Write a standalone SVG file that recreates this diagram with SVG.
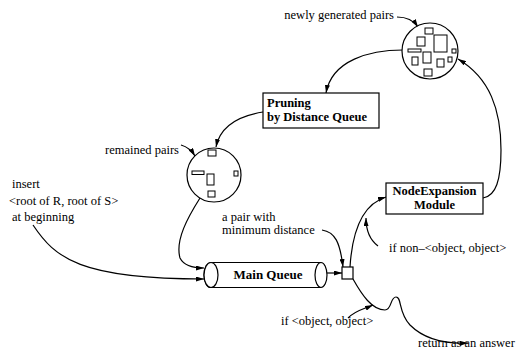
<svg xmlns="http://www.w3.org/2000/svg" width="521" height="353" viewBox="0 0 521 353">
<style>
text{font-family:"Liberation Serif","Times New Roman",serif;font-size:12.5px;fill:#000}
.b{font-weight:bold;font-size:12.5px}
.n{fill:#fff;stroke:#000;stroke-width:1.2}
.r{fill:#fff;stroke:#000;stroke-width:1}
.c{fill:none;stroke:#000;stroke-width:1.2}
</style>
<defs>
<marker id="ah" viewBox="0 0 10 10" refX="10" refY="5" markerWidth="8" markerHeight="5" preserveAspectRatio="none" orient="auto" markerUnits="userSpaceOnUse"><path d="M0,0 L10,5 L0,10 z" fill="#000"/></marker>
</defs>
<rect width="521" height="353" fill="#fff"/>
<g id="connectors" class="c">
<path class="c" d="M397,17 C408,17 414,21 418,27" marker-end="url(#ah)"/>
<path class="c" d="M403,50 C370,50 332,60 326,93" marker-end="url(#ah)"/>
<path class="c" d="M263,112 C238,116 220,127 216,147" marker-end="url(#ah)"/>
<path class="c" d="M181,145 C188,147 192,151 195,156" marker-end="url(#ah)"/>
<path class="c" d="M200,198 C188,217 175,240 180,258 C184,266 195,268 204,268" marker-end="url(#ah)"/>
<path class="c" d="M33,225 C55,258 80,279 204,279" marker-end="url(#ah)"/>
<path class="c" d="M327,273 L342,273" marker-end="url(#ah)"/>
<path class="c" d="M322,230 C335,232 340,242 343,267" marker-end="url(#ah)"/>
<path class="c" d="M350,267 C352,235 360,205 386,197" marker-end="url(#ah)"/>
<path class="c" d="M378,246 C370,240 366,232 366,218" marker-end="url(#ah)"/>
<path class="c" d="M483,198 C496,196 501,180 501,150 C501,110 490,78 458,59" marker-end="url(#ah)"/>
<path class="c" d="M353,279 C362,295 372,310 385,310 C392,310 390,297 396,297 C402,297 398,312 410,325 C425,340 445,344 468,343" marker-end="url(#ah)"/>
<path class="c" d="M348,318 C356,310 362,310 373,305" marker-end="url(#ah)"/>
</g>
<g id="newPairs" transform="translate(430,51)">
<circle class="n" r="28"/>
<rect class="r" x="-5" y="-23" width="8" height="6"/>
<rect class="r" x="-13" y="-14" width="8" height="9"/>
<rect class="r" x="4" y="-16" width="13" height="17"/>
<rect class="r" x="-22" y="-2" width="13" height="3"/>
<rect class="r" x="22" y="-2" width="4" height="4"/>
<rect class="r" x="-7" y="1" width="8" height="11"/>
<rect class="r" x="-18" y="6" width="6" height="8"/>
<rect class="r" x="7" y="8" width="7" height="8"/>
<rect class="r" x="18" y="6" width="4" height="5"/>
<rect class="r" x="-6" y="18" width="8" height="7"/>
</g>
<text x="394" y="19" text-anchor="end">newly generated pairs</text>
<g id="pruning">
<rect class="n" x="263" y="93" width="116" height="35"/>
<text class="b" x="267" y="107">Pruning</text>
<text class="b" x="267" y="121">by Distance Queue</text>
</g>
<g id="remained" transform="translate(214,175)">
<circle class="n" r="27"/>
<rect class="r" x="-6" y="-25" width="8" height="6"/>
<rect class="r" x="-22" y="-4" width="12" height="3.5"/>
<rect class="r" x="-7" y="-1" width="7" height="11"/>
<rect class="r" x="20" y="-4" width="4" height="5"/>
<rect class="r" x="-6" y="16" width="7" height="6"/>
</g>
<text x="105" y="154">remained pairs</text>
<text x="12" y="188">insert</text>
<text x="9" y="205">&lt;root of R, root of S&gt;</text>
<text x="12" y="221">at beginning</text>
<g id="mainQueue">
<path class="n" d="M211,262.5 L321,262.5 A6,12.5 0 0 1 321,287.5 L211,287.5 A7,12.5 0 0 1 211,262.5 z"/>
<ellipse class="n" cx="211" cy="275" rx="7" ry="12.5"/>
<path class="c" d="M321,262.5 A6,12.5 0 0 0 321,287.5"/>
<text class="b" x="268" y="279" text-anchor="middle" style="font-size:13px">Main Queue</text>
</g>
<g id="pair">
<rect class="n" x="342" y="267" width="11" height="12"/>
</g>
<text x="222" y="221">a pair with</text>
<text x="222" y="234">minimum distance</text>
<g id="nodeExpansion">
<rect class="n" x="386" y="183" width="97" height="31"/>
<text class="b" x="434.5" y="195" text-anchor="middle">NodeExpansion</text>
<text class="b" x="434.5" y="209" text-anchor="middle">Module</text>
</g>
<text x="389" y="252">if non–&lt;object, object&gt;</text>
<text x="281" y="325">if &lt;object, object&gt;</text>
<text x="418" y="347">return as an answer</text>
</svg>
